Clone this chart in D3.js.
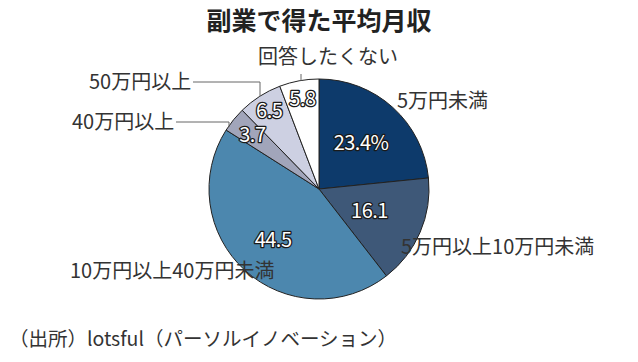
<!DOCTYPE html>
<html>
<head>
<meta charset="utf-8">
<script src="https://cdn.jsdelivr.net/npm/d3@7"></script>
<style>
  body { margin: 0; background: #fff; }
  text { font-family: "Noto Sans CJK JP", "Noto Sans", sans-serif; }
</style>
</head>
<body>
<svg id="chart" width="638" height="362"></svg>
<script>
// data
const categories = ["5万円未満", "5万円以上10万円未満", "10万円以上40万円未満", "40万円以上", "50万円以上", "回答したくない"];
const values = [23.4, 16.1, 44.5, 3.7, 6.5, 5.8];
const valueLabels = ["23.4%", "16.1", "44.5", "3.7", "6.5", "5.8"];
const colors = ["#0d3a6b", "#3e5878", "#4c87ae", "#a1a5ba", "#cdd0e2", "#ffffff"];

const svg = d3.select("#chart");
const width = 638, height = 362;
const cx = 319, cy = 189, r = 110;

// Title
svg.append("text")
  .attr("x", 319)
  .attr("y", 30)
  .attr("text-anchor", "middle")
  .attr("font-size", 25)
  .attr("font-weight", "bold")
  .attr("fill", "#222")
  .text("副業で得た平均月収");

const pie = d3.pie().sort(null).value(d => d)(values);
const arc = d3.arc().innerRadius(0).outerRadius(r);

const g = svg.append("g").attr("transform", `translate(${cx},${cy})`);

g.selectAll("path")
  .data(pie)
  .join("path")
  .attr("d", arc)
  .attr("fill", (d, i) => colors[i])
  .attr("stroke", "#222")
  .attr("stroke-width", 1);

// value labels inside slices
const labelR = [0.57, 0.5, 0.62, 0.78, 0.84, 0.83];
g.selectAll("text.val")
  .data(pie)
  .join("text")
  .attr("class", "val")
  .attr("transform", (d, i) => {
    const a = (d.startAngle + d.endAngle) / 2;
    const rr = r * labelR[i];
    return `translate(${Math.sin(a) * rr},${-Math.cos(a) * rr})`;
  })
  .attr("text-anchor", "middle")
  .attr("dy", "0.36em")
  .attr("font-size", 20)
  .attr("letter-spacing", -0.5)
  .attr("fill", "#fff")
  .attr("stroke", "#1a1a1a")
  .attr("stroke-width", 2.6)
  .attr("stroke-linejoin", "round")
  .attr("paint-order", "stroke")
  .text((d, i) => valueLabels[i]);

// category labels
const catText = [
  { i: 0, x: 397, y: 108, anchor: "start" },
  { i: 1, x: 401, y: 254, anchor: "start" },
  { i: 2, x: 70, y: 278, anchor: "start" },
  { i: 3, x: 72, y: 129, anchor: "start" },
  { i: 4, x: 89, y: 89, anchor: "start" },
  { i: 5, x: 328, y: 64, anchor: "middle" }
];
svg.selectAll("text.cat")
  .data(catText)
  .join("text")
  .attr("class", "cat")
  .attr("x", d => d.x)
  .attr("y", d => d.y)
  .attr("text-anchor", d => d.anchor)
  .attr("font-size", 20)
  .attr("fill", "#333")
  .text(d => categories[d.i]);

// leader lines
const leaders = [
  [[176, 122], [229, 122], [229, 127]],
  [[193, 82], [260, 82], [260, 96]],
  [[301, 74], [301, 81]]
];
svg.selectAll("path.leader")
  .data(leaders)
  .join("path")
  .attr("class", "leader")
  .attr("d", d3.line())
  .attr("fill", "none")
  .attr("stroke", "#666")
  .attr("stroke-width", 1);

// source
svg.append("text")
  .attr("x", 9)
  .attr("y", 346)
  .attr("font-size", 19.5)
  .attr("fill", "#333")
  .text("（出所）lotsful（パーソルイノベーション）");
</script>
</body>
</html>
